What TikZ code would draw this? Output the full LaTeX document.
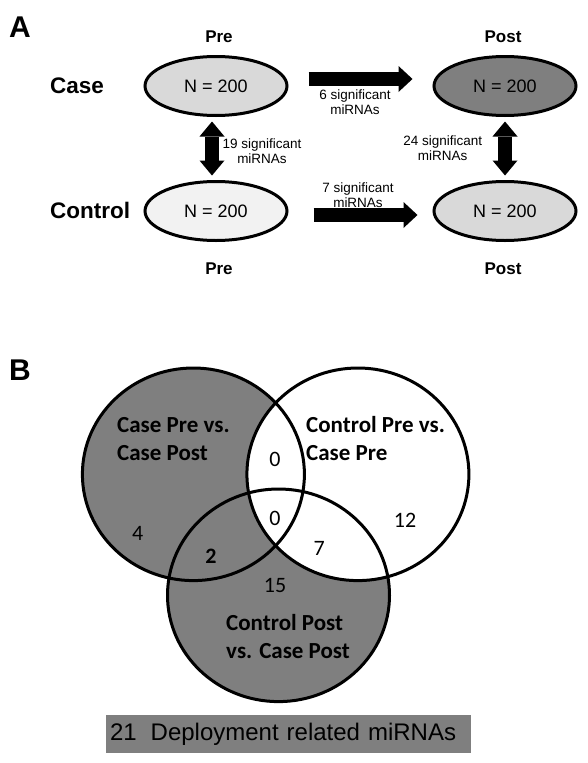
\documentclass[tikz,border=0pt]{standalone}
\usepackage{fontspec}
\setmainfont{Liberation Sans}
\newfontfamily\calibri{Carlito}
\usetikzlibrary{shapes.geometric,arrows.meta,calc}

\definecolor{lightfill}{HTML}{D9D9D9}
\definecolor{palefill}{HTML}{F2F2F2}
\definecolor{darkfill}{HTML}{7F7F7F}

\begin{document}
\begin{tikzpicture}[x=1pt, y=-1pt,
		group/.style={ellipse, draw, line width=3pt, minimum width=142pt, minimum height=59pt, inner sep=0pt, font=\fontsize{18}{20}\selectfont},
		fat/.style={line width=13.3pt, -{Triangle[width=26pt,length=14pt,line width=0pt]}},
		fatboth/.style={line width=13.3pt, {Triangle[width=25pt,length=15pt,line width=0pt]}-{Triangle[width=25pt,length=15pt,line width=0pt]}},
		small/.style={align=center, font=\fontsize{13.5}{15}\selectfont},
		head/.style={anchor=base, font=\bfseries\fontsize{17}{19}\selectfont},
		side/.style={anchor=base west, inner sep=0pt, font=\bfseries\fontsize{22.5}{24}\selectfont},
		panel/.style={anchor=base west, inner sep=0pt, font=\bfseries\fontsize{30}{32}\selectfont},
		venn/.style={anchor=west, inner sep=0pt, align=left, font=\calibri\bfseries\fontsize{23}{28}\selectfont},
		count/.style={font=\calibri\fontsize{22}{24}\selectfont}]

		\useasboundingbox (0,0) rectangle (587,763);

		% panel A: groups before and after
		\node[panel] (labA) at (9,37) {A};

		\node[group, fill=lightfill] (casepre) at (216,86) {N = 200};
		\node[group, fill=darkfill] (casepost) at (505,86) {N = 200};
		\node[group, fill=palefill] (ctrlpre) at (216,211) {N = 200};
		\node[group, fill=lightfill] (ctrlpost) at (505,211) {N = 200};

		\node[head] (pretop) at (219,42) {Pre};
		\node[head] (prebot) at (219,274) {Pre};
		\node[head] (posttop) at (503,42) {Post};
		\node[head] (postbot) at (503,274) {Post};

		\node[side] (case) at (50,93.5) {Case};
		\node[side] (ctrl) at (50,218) {Control};

		\draw[fat] ($(casepre.east)+(20,-7)$) -- ($(casepost.west)+(-20,-7)$);
		\draw[fat] ($(ctrlpre.east)+(25,4)$) -- ($(ctrlpost.west)+(-15,4)$);
		\draw[fatboth] ($(casepre.south)+(-4,4.5)$) -- ($(ctrlpre.north)+(-4,-4.5)$);
		\draw[fatboth] ($(casepost.south)+(0,4.5)$) -- ($(ctrlpost.north)+(0,-4.5)$);

		\node[small] (sig6) at (355,102.5) {6 significant\\miRNAs};
		\node[small] (sig7) at (358,195) {7 significant\\miRNAs};
		\node[small] (sig19) at (262,151.5) {19 significant\\miRNAs};
		\node[small] (sig24) at (442.7,148.3) {24 significant\\miRNAs};

		% panel B: overlap of the three comparisons
		\node[panel] (labB) at (9,380) {B};

		\coordinate (L) at (193.4,474.3);
		\coordinate (R) at (357.9,474.3);
		\coordinate (D) at (278.5,595.3);

		\fill[darkfill] (L) ellipse [x radius=111, y radius=106.3];
		\fill[darkfill] (D) ellipse [x radius=111, y radius=106.3];
		\fill[white] (R) ellipse [x radius=111, y radius=106.3];
		\foreach \c in {L,R,D}
			\draw[line width=3pt] (\c) ellipse [x radius=111, y radius=106.3];

		\node[venn] (setL) at (117,439) {Case Pre vs.\\Case Post};
		\node[venn] (setR) at (306,439) {Control Pre vs.\\Case Pre};
		\node[venn] (setD) at (226,637) {Control Post\\vs. Case Post};

		\foreach[count=\i] \n/\x/\y in {
				0/275/459.3,
				0/275/518.3,
				4/137.7/533.3,
				7/319.3/548.3,
				12/405/520,
				15/275/585
			} {
				\node[count] (num\i) at (\x,\y) {\n};
			}
		\node[count, font=\calibri\bfseries\fontsize{22}{24}\selectfont] (numLD) at (211,556) {2};

		\node[fill=darkfill, text width=357pt, inner sep=4pt, minimum height=38pt, align=left, font=\fontsize{24}{26}\selectfont] (total) at (288.5,734) {21\hspace{6pt} Deployment related miRNAs};
	\end{tikzpicture}
\end{document}
